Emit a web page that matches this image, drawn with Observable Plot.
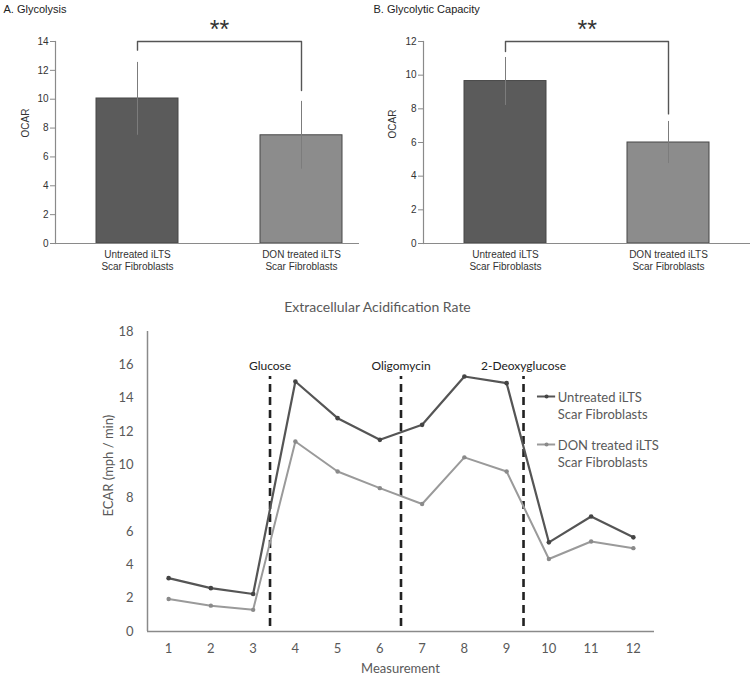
<!DOCTYPE html>
<html>
<head>
<meta charset="utf-8">
<script src="https://cdn.jsdelivr.net/npm/d3@7"></script>
<script src="https://cdn.jsdelivr.net/npm/@observablehq/plot@0.6"></script>
<style>
  html, body { margin: 0; padding: 0; background: #fff; }
  #page { position: relative; width: 755px; height: 677px; overflow: hidden; background: #fff; }
  .panel { position: absolute; }
</style>
</head>
<body>
<div id="page">
  <div id="pa" class="panel" style="left:0px; top:0px;"></div>
  <div id="pb" class="panel" style="left:370px; top:0px;"></div>
  <div id="pc" class="panel" style="left:0px; top:290px;"></div>
</div>
<script>
// ---------- data ----------
const groups = ["Untreated iLTS\nScar Fibroblasts", "DON treated iLTS\nScar Fibroblasts"];

const glycolysisMean = [10.05, 7.5];
const glycolysisLow = [7.5, 5.15];
const glycolysisHigh = [12.55, 9.85];
const glycolysisBracketEnds = [13.4, 10.6];
const glycolysisBracketTop = 14;
const glycolysisTicks = [0, 2, 4, 6, 8, 10, 12, 14];

const capacityMean = [9.65, 6.0];
const capacityLow = [8.2, 4.75];
const capacityHigh = [11.05, 7.25];
const capacityBracketEnds = [11.4, 7.7];
const capacityBracketTop = 12;
const capacityTicks = [0, 2, 4, 6, 8, 10, 12];

const significance = "**";

const measurements = [1, 2, 3, 4, 5, 6, 7, 8, 9, 10, 11, 12];
const untreated = [3.2, 2.6, 2.25, 15.0, 12.8, 11.5, 12.4, 15.3, 14.9, 5.35, 6.9, 5.65];
const donTreated = [1.95, 1.55, 1.3, 11.4, 9.6, 8.6, 7.65, 10.45, 9.6, 4.35, 5.4, 5.0];
const ecarTicks = [0, 2, 4, 6, 8, 10, 12, 14, 16, 18];

const injections = ["Glucose", "Oligomycin", "2-Deoxyglucose"];
const injectionAt = [3.4, 6.5, 9.4];

const seriesNames = ["Untreated iLTS\nScar Fibroblasts", "DON treated iLTS\nScar Fibroblasts"];

// ---------- styles ----------
const sansA = "'Liberation Sans', Arial, Helvetica, sans-serif";
const sansC = "Lato, 'Open Sans', 'DejaVu Sans', sans-serif";
const barFills = ["#5b5b5b", "#8c8c8c"];
const lineColors = ["#555555", "#9a9a9a"];
const dotColors = ["#444444", "#8a8a8a"];

function barPanel({title, mean, low, high, bracketEnds, bracketTop, ticks, width, marginLeft, marginRight, xRange, ocarDx, ocarDy}) {
  const step = (xRange[1] - xRange[0]) / 2;
  const bracket = [
    [groups[0], bracketEnds[0]],
    [groups[0], bracketTop],
    [groups[1], bracketTop],
    [groups[1], bracketEnds[1]]
  ];
  return Plot.plot({
    width, height: 290,
    marginLeft, marginRight, marginTop: 41, marginBottom: 47,
    style: {fontFamily: sansA, fontSize: "10px", color: "#333", background: "transparent", overflow: "visible"},
    x: {type: "band", domain: groups, range: xRange, paddingInner: 0.5, paddingOuter: 0.25, axis: null},
    y: {domain: [0, ticks[ticks.length - 1]], axis: null},
    color: {type: "identity"},
    marks: [
      Plot.barY(groups, {x: d => d, y: (d, i) => mean[i], fill: (d, i) => barFills[i], stroke: "#474747", strokeWidth: 1}),
      Plot.ruleX(groups, {x: d => d, y1: (d, i) => low[i], y2: (d, i) => high[i], stroke: "#7c7c7c", strokeWidth: 1}),
      Plot.line(bracket, {x: d => d[0], y: d => d[1], stroke: "#555", strokeWidth: 1.4}),
      Plot.text([significance], {x: () => groups[0], y: () => bracketTop, dx: step / 2, dy: -12, lineAnchor: "middle", fontSize: 25, fill: "#333"}),
      Plot.ruleY([0], {stroke: "#8a8a8a", strokeWidth: 1.2}),
      Plot.frame({anchor: "left", stroke: "#8a8a8a", strokeWidth: 1.2}),
      Plot.axisY({ticks, tickSize: 5, tickPadding: 2, stroke: "#8a8a8a", fill: "#333", label: null, fontSize: 10}),
      Plot.text(groups, {x: d => d, frameAnchor: "bottom", lineAnchor: "top", dy: 6, lineHeight: 1.2, fill: "#333", fontSize: 10}),
      Plot.text(["OCAR"], {frameAnchor: "left", rotate: -90, dx: ocarDx, dy: ocarDy, fill: "#333", fontSize: 10}),
      Plot.text([title], {frameAnchor: "top-left", textAnchor: "start", lineAnchor: "middle", dx: 3 - marginLeft, dy: -32.5, fontSize: 11, fill: "#222"})
    ]
  });
}

document.getElementById("pa").appendChild(barPanel({
  title: "A. Glycolysis",
  mean: glycolysisMean, low: glycolysisLow, high: glycolysisHigh,
  bracketEnds: glycolysisBracketEnds, bracketTop: glycolysisBracketTop,
  ticks: glycolysisTicks,
  width: 370, marginLeft: 55, marginRight: 11, xRange: [55, 383],
  ocarDx: -30, ocarDy: -5
}));

document.getElementById("pb").appendChild(barPanel({
  title: "B. Glycolytic Capacity",
  mean: capacityMean, low: capacityLow, high: capacityHigh,
  bracketEnds: capacityBracketEnds, bracketTop: capacityBracketTop,
  ticks: capacityTicks,
  width: 385, marginLeft: 53, marginRight: 5, xRange: [53, 380],
  ocarDx: -31, ocarDy: -4
}));

// ---------- ECAR line chart ----------
const xDomain = [0.5, 12.5];
const legendY = [14.1, 11.22];
const legendTextY = [13.56, 10.68];

const ecar = Plot.plot({
  width: 755, height: 387,
  marginLeft: 147, marginRight: 101, marginTop: 41, marginBottom: 46,
  style: {fontFamily: sansC, fontSize: "13px", color: "#595959", background: "transparent", overflow: "visible"},
  x: {domain: xDomain, axis: null},
  y: {domain: [0, ecarTicks[ecarTicks.length - 1]], axis: null},
  marks: [
    Plot.axisY({ticks: ecarTicks, tickSize: 0, tickPadding: 14, fill: "#595959", label: null, fontSize: 13}),
    Plot.axisX({ticks: measurements, tickSize: 0, tickPadding: 12, fill: "#595959", label: null, fontSize: 13}),
    Plot.ruleY([0], {stroke: "#8a8a8a", strokeWidth: 1.5}),
    Plot.ruleX([xDomain[0]], {y1: 0, y2: ecarTicks[ecarTicks.length - 1], stroke: "#8a8a8a", strokeWidth: 1.5}),
    Plot.ruleX(injectionAt, {x: d => d, y1: 0.3, y2: 15.3, stroke: "#222", strokeWidth: 2.6, strokeDasharray: "8,5"}),
    Plot.text(injections, {x: (d, i) => injectionAt[i], y: 15.3, dy: -10, lineAnchor: "middle", fill: "#222", fontSize: 12}),
    Plot.line(measurements, {x: d => d, y: (d, i) => donTreated[i], stroke: lineColors[1], strokeWidth: 2}),
    Plot.dot(measurements, {x: d => d, y: (d, i) => donTreated[i], r: 2.2, fill: dotColors[1]}),
    Plot.line(measurements, {x: d => d, y: (d, i) => untreated[i], stroke: lineColors[0], strokeWidth: 2.2}),
    Plot.dot(measurements, {x: d => d, y: (d, i) => untreated[i], r: 2.3, fill: dotColors[0]}),
    // legend
    Plot.ruleY(legendY, {x1: 9.73, x2: 10.16, y: d => d, stroke: (d, i) => lineColors[i], strokeWidth: 2}),
    Plot.dot(legendY, {x: 9.945, y: d => d, r: 2, fill: (d, i) => dotColors[i]}),
    Plot.text(seriesNames, {x: 10.21, y: (d, i) => legendTextY[i], textAnchor: "start", lineAnchor: "middle", lineHeight: 1.31, fill: "#595959", fontSize: 13}),
    // titles
    Plot.text(["Extracellular Acidification Rate"], {frameAnchor: "top", dx: -23.5, dy: -24, lineAnchor: "middle", fontSize: 14, fill: "#595959"}),
    Plot.text(["Measurement"], {frameAnchor: "bottom", dx: -0.5, dy: 37, lineAnchor: "middle", fontSize: 13, fill: "#595959"}),
    Plot.text(["ECAR (mph / min)"], {frameAnchor: "left", rotate: -90, dx: -39, dy: 35, lineAnchor: "middle", fontSize: 13, fill: "#595959"})
  ]
});
document.getElementById("pc").appendChild(ecar);
</script>
</body>
</html>
